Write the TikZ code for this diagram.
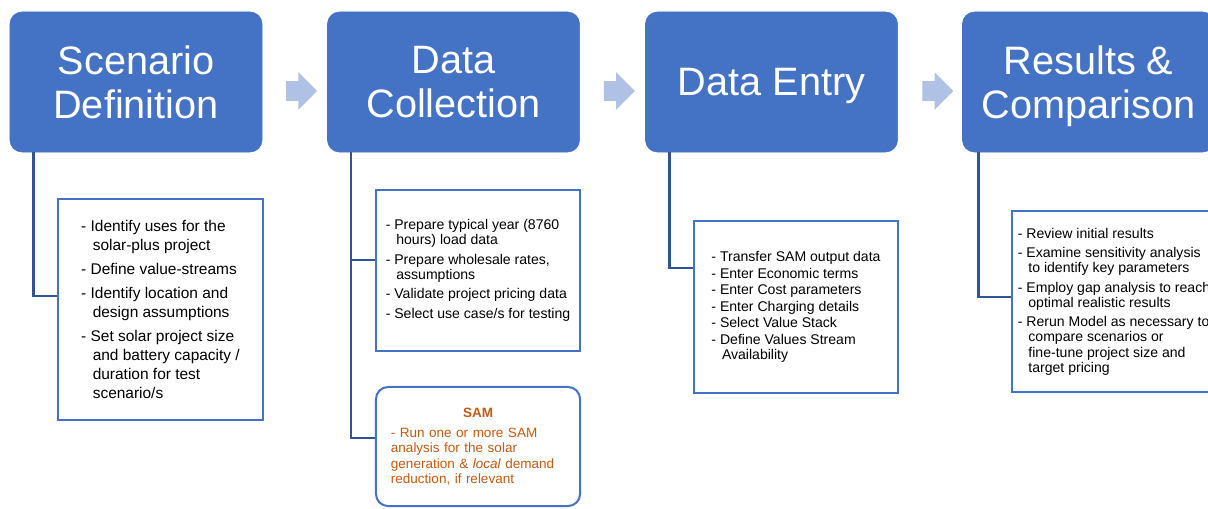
\documentclass[tikz,border=0pt]{standalone}
\usepackage{fontspec}
\setmainfont{Liberation Sans}
\usetikzlibrary{calc,shapes.arrows}

\definecolor{hdblue}{HTML}{4472C4}
\definecolor{lnblue}{HTML}{2F5597}
\definecolor{arrblue}{HTML}{AFC1E4}
\definecolor{samorange}{HTML}{C55A11}
\newcommand{\ind}{\hspace*{0.75em}}

\begin{document}
\begin{tikzpicture}[
  x=0.025cm, y=-0.025cm,
  every node/.style={inner sep=0pt},
  head/.style={rectangle, rounded corners=0.3cm, fill=hdblue, draw=hdblue,
    text=white, align=center, minimum width=6.3cm, minimum height=3.5cm,
    font=\fontsize{28.2}{31.3}\selectfont},
  flowarrow/.style={single arrow, fill=arrblue, draw=none,
    inner xsep=0pt, inner ysep=0.24cm, minimum height=0.775cm,
    single arrow head extend=0.225cm, single arrow head indent=0pt},
  % detail boxes under each stage
  detail/.style={rectangle, draw=hdblue, line width=0.05cm, fill=white,
    align=left, minimum width=5.1cm},
  samnote/.style={detail, rounded corners=0.3cm, text=samorange,
    text width=4.35cm, inner xsep=0.375cm,
    font=\fontsize{9.6}{11}\selectfont},
  link/.style={draw=lnblue, line width=0.065cm}]

  \useasboundingbox (0,0) rectangle (1208,508);

  % stage headers
  \node[head] (scen)  at (136,82)    {Scenario\\Definition};
  \node[head] (coll)  at (453.5,82)  {Data\\Collection};
  \node[head, text depth=0pt] (entry) at (771.5,82) {Data Entry};
  \node[head, text depth=0pt] (res)   at (1088.5,82) {Results \&\\Comparison};

  % block arrows between stages
  \node[flowarrow] (ar1) at ($(scen.east)!0.5!(coll.west)+(2,9)$) {};
  \node[flowarrow] (ar2) at ($(coll.east)!0.5!(entry.west)+(2,9)$) {};
  \node[flowarrow] (ar3) at ($(entry.east)!0.5!(res.west)+(3,9)$) {};

  % detail boxes
  \node[detail, minimum width=5.125cm, minimum height=5.525cm,
    font=\fontsize{11}{13.5}\selectfont] (d1) at (160.5,309.5)
    {- Identify uses for the\\ \ind solar-plus project\\[3.6pt]
     - Define value-streams\\[3.6pt]
     - Identify location and\\ \ind design assumptions\\[3.6pt]
     - Set solar project size\\ \ind and battery capacity /\\
     \ind duration for test\\ \ind scenario/s};

  \node[detail, minimum height=4.025cm,
    font=\fontsize{10}{10.7}\selectfont] (d2) at (478,270.5)
    {- Prepare typical year (8760\\ \ind hours) load data\\[3.2pt]
     - Prepare wholesale rates,\\ \ind assumptions\\[3.2pt]
     - Validate project pricing data\\[3.2pt]
     - Select use case/s for testing};

  \node[samnote, minimum height=2.975cm] (sam) at (478,446.5)
    {\makebox[\hsize]{\bfseries SAM}\\[3.2pt]
     - Run one or more SAM\\ analysis for the solar\\
     generation \& \textit{local} demand\\ reduction, if relevant};

  \node[detail, minimum height=4.3cm,
    font=\fontsize{10}{11.7}\selectfont] (d3) at (796,307)
    {- Transfer SAM output data\\ - Enter Economic terms\\
     - Enter Cost parameters\\ - Enter Charging details\\
     - Select Value Stack\\ - Define Values Stream\\[-1pt] \ind Availability};

  \node[detail, minimum height=4.525cm,
    font=\fontsize{10}{10.7}\selectfont] (d4) at (1114,301.5)
    {- Review initial results\\[3.2pt]
     - Examine sensitivity analysis\\ \ind to identify key parameters\\[3.2pt]
     - Employ gap analysis to reach\\ \ind optimal realistic results\\[3.2pt]
     - Rerun Model as necessary to\\ \ind compare scenarios or\\
     \ind fine-tune project size and\\ \ind target pricing};

  % connectors from headers to boxes
  \coordinate (v1) at ([xshift=0.6cm]scen.south west);
  \coordinate (v2) at ([xshift=0.6cm]coll.south west);
  \coordinate (v3) at ([xshift=0.6cm]entry.south west);
  \coordinate (v4) at ([xshift=0.4cm]res.south west);

  \draw[link] (v1) |- ([yshift=0.34cm]d1.west);
  \draw[link] (v2) |- ([yshift=0.21cm]sam.west);
  \draw[link] ([yshift=0.26cm]d2.west -| v2) -- ([yshift=0.26cm]d2.west);
  \draw[link] (v3) |- ([yshift=0.975cm]d3.west);
  \draw[link] (v4) |- ([yshift=0.11cm]d4.west);
\end{tikzpicture}
\end{document}
